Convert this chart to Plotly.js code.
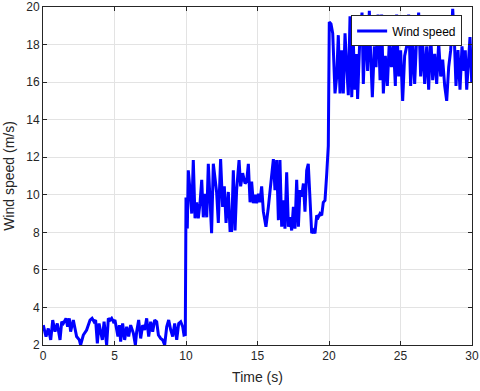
<!DOCTYPE html>
<html>
<head>
<meta charset="utf-8">
<script src="https://cdn.plot.ly/plotly-3.0.1.min.js"></script>
<style>
  html, body { margin: 0; padding: 0; background: #ffffff; }
  #chart { width: 480px; height: 391px; }
</style>
</head>
<body>
<div id="chart"></div>
<script>
// Low wind stretch, 0 - 10 s
const timeLow = [0.02, 0.21, 0.37, 0.54, 0.68, 0.84, 1.00, 1.19, 1.31, 1.42,
  1.61, 1.72, 1.84, 1.93, 2.12, 2.35, 2.54, 2.63, 2.82, 3.05,
  3.29, 3.43, 3.57, 3.68, 3.80, 3.92, 4.03, 4.15, 4.27, 4.45,
  4.57, 4.69, 4.80, 4.92, 5.03, 5.15, 5.24, 5.34, 5.43, 5.57,
  5.71, 5.85, 5.99, 6.13, 6.32, 6.46, 6.55, 6.69, 6.83, 6.97,
  7.11, 7.25, 7.39, 7.53, 7.67, 7.81, 7.95, 8.07, 8.23, 8.37,
  8.51, 8.65, 8.79, 8.93, 9.07, 9.21, 9.35, 9.49, 9.63, 9.77,
  9.86, 9.95];
const speedLow = [3.06, 2.45, 2.88, 2.27, 3.33, 2.71, 3.15, 2.27, 3.24, 3.15,
  3.42, 2.97, 3.42, 2.71, 3.33, 2.45, 2.27, 2.0, 2.53, 2.80,
  3.33, 3.42, 3.24, 3.33, 2.09, 3.15, 2.71, 2.27, 3.24, 2.0,
  3.42, 3.33, 3.42, 3.24, 3.33, 2.71, 2.45, 3.06, 2.18, 3.15,
  2.27, 2.97, 2.45, 3.06, 2.62, 2.0, 2.71, 3.33, 2.35, 3.06,
  2.80, 3.42, 2.45, 3.24, 2.71, 3.33, 3.24, 2.53, 2.35, 2.27,
  2.0, 2.97, 3.33, 2.80, 2.45, 3.15, 2.27, 3.15, 3.24, 2.97,
  2.53, 2.55];

// Medium wind stretch, 10 - 20 s
const timeMid = [10.0, 10.09, 10.16, 10.28, 10.40, 10.51, 10.63, 10.75, 10.86, 10.98,
  11.10, 11.21, 11.33, 11.45, 11.56, 11.79, 11.91, 12.14, 12.26, 12.42,
  12.56, 12.68, 12.80, 12.96, 13.08, 13.19, 13.31, 13.43, 13.54, 13.71,
  13.82, 13.96, 14.13, 14.24, 14.36, 14.48, 14.59, 14.71, 14.83, 14.94,
  15.06, 15.17, 15.29, 15.41, 15.59, 15.76, 15.87, 16.11, 16.22, 16.34,
  16.46, 16.57, 16.69, 16.81, 16.92, 17.04, 17.16, 17.27, 17.39, 17.51,
  17.62, 17.74, 17.86, 17.97, 18.09, 18.21, 18.32, 18.44, 18.55, 18.67,
  18.79, 18.90, 19.02, 19.14, 19.25, 19.37, 19.49, 19.60, 19.72, 19.84,
  19.95];
const speedMid = [9.85, 8.2, 11.3, 10.25, 9.0, 11.85, 8.75, 9.6, 8.75, 9.55,
  10.8, 8.8, 10.05, 8.8, 11.65, 7.95, 11.65, 10.15, 8.5, 11.9,
  9.35, 10.45, 8.5, 10.15, 8.1, 8.1, 11.3, 8.1, 10.25, 11.85,
  10.45, 11.15, 10.6, 10.7, 11.65, 9.6, 10.7, 9.55, 10.0, 9.55,
  10.05, 9.6, 10.45, 9.1, 8.3, 9.35, 10.05, 11.9, 10.25, 11.85,
  8.65, 11.85, 8.3, 9.7, 8.2, 11.2, 8.3, 8.8, 8.1, 9.35,
  8.2, 10.8, 8.3, 10.25, 9.9, 10.6, 9.1, 11.3, 11.65, 9.7,
  7.95, 8.1, 7.95, 8.9, 8.8, 9.0, 8.9, 9.6, 9.7, 11.1,
  12.6];

// High wind stretch, 20 - 30 s
const timeHigh = [20.02, 20.14, 20.26, 20.35, 20.42, 20.54, 20.65, 20.77, 20.89, 21.00,
  21.12, 21.24, 21.35, 21.47, 21.59, 21.70, 21.82, 21.93, 22.00, 22.17,
  22.31, 22.40, 22.56, 22.70, 22.82, 22.91, 23.03, 23.17, 23.29, 23.43,
  23.57, 23.68, 23.80, 23.94, 24.08, 24.22, 24.36, 24.50, 24.64, 24.73,
  24.87, 25.01, 25.15, 25.29, 25.43, 25.57, 25.71, 25.85, 25.99, 26.13,
  26.27, 26.41, 26.55, 26.69, 26.83, 26.97, 27.11, 27.25, 27.39, 27.53,
  27.67, 27.81, 27.95, 28.09, 28.23, 28.37, 28.51, 28.65, 28.77, 28.88,
  29.02, 29.16, 29.30, 29.44, 29.53, 29.63, 29.75, 29.86, 29.98];
const speedHigh = [19.2, 19.1, 18.6, 16.8, 15.4, 16.3, 18.5, 15.4, 17.7, 15.4,
  18.6, 16.8, 15.3, 19.5, 15.2, 18.1, 15.6, 17.5, 15.1, 18.6,
  19.7, 15.9, 19.3, 16.6, 19.8, 17.5, 15.2, 17.9, 16.8, 19.6,
  16.1, 19.6, 15.4, 17.4, 15.8, 18.2, 16.8, 18.1, 15.8, 19.6,
  16.3, 17.7, 15.0, 17.4, 17.9, 19.6, 15.8, 18.2, 15.9, 18.4,
  19.7, 16.3, 18.1, 15.9, 17.9, 15.6, 18.6, 16.1, 17.5, 15.9,
  18.1, 16.3, 17.2, 15.8, 15.0, 16.8, 17.7, 19.9, 18.2, 15.8,
  17.7, 15.6, 17.9, 16.6, 17.7, 15.6, 16.8, 18.4, 16.0];

const xTicks = [0, 5, 10, 15, 20, 25, 30];
const yTicks = [2, 4, 6, 8, 10, 12, 14, 16, 18, 20];

const time = timeLow.concat(timeMid, timeHigh);
const speed = speedLow.concat(speedMid, speedHigh);

const trace = {
  x: time,
  y: speed,
  type: 'scatter',
  mode: 'lines',
  name: 'Wind speed',
  line: { color: '#0000ff', width: 3 },
};

const axisCommon = {
  showline: true,
  mirror: 'ticks',
  linecolor: '#262626',
  linewidth: 1,
  ticks: 'inside',
  ticklen: 4,
  tickcolor: '#262626',
  showgrid: true,
  gridcolor: '#e3e3e3',
  gridwidth: 1,
  zeroline: false,
  tickfont: { family: 'Liberation Sans, Arial, sans-serif', size: 12, color: '#262626' },
};

const layout = {
  width: 480,
  height: 391,
  margin: { l: 43, r: 8, t: 7, b: 46 },
  paper_bgcolor: '#ffffff',
  plot_bgcolor: '#ffffff',
  showlegend: true,
  legend: {
    x: 0.977, y: 0.975,
    xanchor: 'right', yanchor: 'top',
    bgcolor: '#ffffff',
    bordercolor: '#262626',
    borderwidth: 1,
    font: { family: 'Liberation Sans, Arial, sans-serif', size: 12, color: '#000000' },
    tracegroupgap: 0,
  },
  xaxis: Object.assign({}, axisCommon, {
    range: [0, 30],
    tickvals: xTicks,
    title: { text: 'Time (s)', standoff: 9,
             font: { family: 'Liberation Sans, Arial, sans-serif', size: 14, color: '#262626' } },
  }),
  yaxis: Object.assign({}, axisCommon, {
    range: [2, 20],
    tickvals: yTicks,
    title: { text: 'Wind speed (m/s)', standoff: 8,
             font: { family: 'Liberation Sans, Arial, sans-serif', size: 14, color: '#262626' } },
  }),
};

Plotly.newPlot('chart', [trace], layout, { displayModeBar: false, staticPlot: true });
</script>
</body>
</html>
